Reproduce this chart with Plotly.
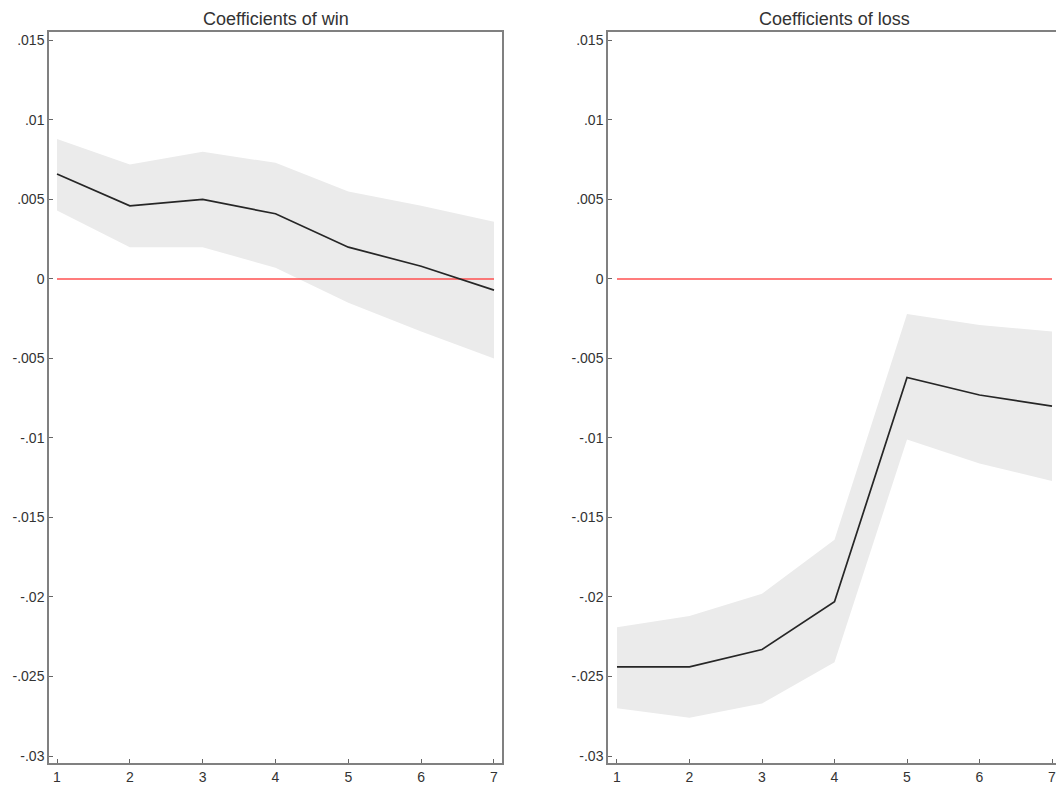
import plotly.graph_objects as go

periods = [1, 2, 3, 4, 5, 6, 7]

win_coef = [0.0066, 0.0046, 0.0050, 0.0041, 0.0020, 0.0008, -0.0007]
win_upper = [0.0088, 0.0072, 0.0080, 0.0073, 0.0055, 0.0046, 0.0036]
win_lower = [0.0043, 0.0020, 0.0020, 0.0007, -0.0015, -0.0033, -0.0050]

loss_coef = [-0.0244, -0.0244, -0.0233, -0.0203, -0.0062, -0.0073, -0.0080]
loss_upper = [-0.0219, -0.0212, -0.0198, -0.0164, -0.0022, -0.0029, -0.0033]
loss_lower = [-0.0270, -0.0276, -0.0267, -0.0241, -0.0101, -0.0116, -0.0127]

ytick_vals = [0.015, 0.01, 0.005, 0, -0.005, -0.01, -0.015, -0.02, -0.025, -0.03]
ytick_text = [".015", ".01", ".005", "0", "-.005", "-.01", "-.015", "-.02", "-.025", "-.03"]

titles = ["Coefficients of win", "Coefficients of loss"]

W, H = 1056, 785
FONT = "Liberation Sans, Arial, sans-serif"
BAND = "#ebebeb"
AXC = "#808080"

fig = go.Figure()

panels = [
    ("x", "y", win_coef, win_upper, win_lower),
    ("x2", "y2", loss_coef, loss_upper, loss_lower),
]
for xa, ya, coef, up, lo in panels:
    fig.add_trace(go.Scatter(x=periods, y=up, mode="lines", line=dict(width=0, color=BAND),
                             xaxis=xa, yaxis=ya, showlegend=False, hoverinfo="skip"))
    fig.add_trace(go.Scatter(x=periods, y=lo, mode="lines", line=dict(width=0, color=BAND),
                             fill="tonexty", fillcolor=BAND,
                             xaxis=xa, yaxis=ya, showlegend=False, hoverinfo="skip"))
    fig.add_trace(go.Scatter(x=[periods[0], periods[-1]], y=[0, 0], mode="lines",
                             line=dict(width=1.5, color="#ff5050"),
                             xaxis=xa, yaxis=ya, showlegend=False))
    fig.add_trace(go.Scatter(x=periods, y=coef, mode="lines",
                             line=dict(width=1.7, color="#262626"),
                             xaxis=xa, yaxis=ya, showlegend=False))

yr = [-0.03044, 0.01553]
common_x = dict(tickmode="array", tickvals=periods, ticktext=[str(p) for p in periods],
                ticks="inside", ticklen=4, tickcolor="#666", showgrid=False, zeroline=False,
                showline=True, linecolor=AXC, linewidth=1.5, mirror=True,
                ticklabeloverflow="allow",
                tickfont=dict(size=14, color="#333", family=FONT))
common_y = dict(tickmode="array", tickvals=ytick_vals, ticktext=ytick_text, range=yr,
                ticks="inside", ticklen=4, tickcolor="#666", showgrid=False, zeroline=False,
                showline=True, linecolor=AXC, linewidth=1.5,
                tickfont=dict(size=14, color="#333", family=FONT), domain=[0, 1])

fig.update_layout(
    width=W, height=H,
    margin=dict(l=0, r=0, t=32, b=18),
    paper_bgcolor="white", plot_bgcolor="white",
    font=dict(family=FONT, color="#333"),
    xaxis=dict(common_x, domain=[49 / W, 502 / W], range=[0.89, 7.11]),
    yaxis=dict(common_y, anchor="x", mirror=True),
    xaxis2=dict(common_x, domain=[608 / W, 1.0], range=[0.876, 7.055], anchor="y2"),
    yaxis2=dict(common_y, anchor="x2", mirror=False),
    annotations=[
        dict(text=titles[0], x=275.5 / W, y=1, xref="paper", yref="paper",
             xanchor="center", yanchor="bottom", yshift=1, showarrow=False,
             font=dict(size=18, color="#333", family=FONT)),
        dict(text=titles[1], x=834 / W, y=1, xref="paper", yref="paper",
             xanchor="center", yanchor="bottom", yshift=1, showarrow=False,
             font=dict(size=18, color="#333", family=FONT)),
    ],
)

fig.write_html("out.html", config={"displayModeBar": False},
               post_script="document.body.style.margin='0';document.body.style.overflow='hidden';")
